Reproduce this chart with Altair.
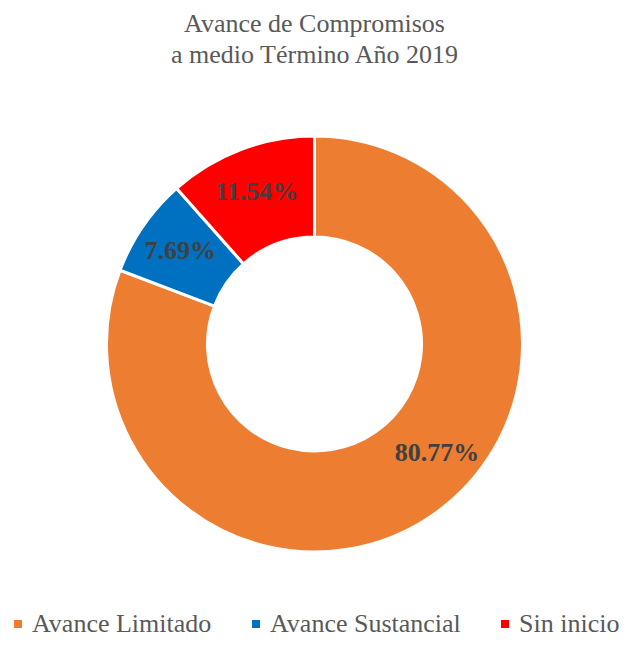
import altair as alt
import pandas as pd

categories = ["Avance Limitado", "Avance Sustancial", "Sin inicio"]
values = [80.77, 7.69, 11.54]
colors = ["#ED7D31", "#0070C0", "#FF0000"]
order = [1, 2, 3]

df = pd.DataFrame({
    "categoria": categories,
    "valor": values,
    "orden": order,
    "etiqueta": [f"{v:.2f}%" for v in values],
})

SERIF = "Times New Roman, Liberation Serif, serif"

base = alt.Chart(df).encode(
    theta=alt.Theta("valor:Q", stack=True),
    order=alt.Order("orden:Q"),
)

color_enc = alt.Color(
    "categoria:N",
    scale=alt.Scale(domain=categories, range=colors),
    sort=categories,
    legend=alt.Legend(
        title=None,
        orient="none",
        direction="horizontal",
        legendX=-3,
        legendY=541,
        symbolType="square",
        symbolSize=64,
        symbolStrokeWidth=0,
        labelFont=SERIF,
        labelFontSize=26,
        labelColor="#595959",
        labelOffset=1,
        columnPadding=31,
        labelLimit=400,
        padding=0,
    ),
)

arcs = base.mark_arc(
    outerRadius=208, innerRadius=107, stroke="white", strokeWidth=3
).encode(color=color_enc)

labels_small = base.mark_text(
    radius=163, font=SERIF, fontSize=26, fontWeight="bold", color="#404040"
).encode(
    text=alt.condition(
        alt.datum.categoria != "Avance Limitado",
        alt.Text("etiqueta:N"),
        alt.value(""),
    )
)

labels_big = base.mark_text(
    radius=163, dx=30, dy=-25, font=SERIF, fontSize=26, fontWeight="bold", color="#404040"
).encode(
    text=alt.condition(
        alt.datum.categoria == "Avance Limitado",
        alt.Text("etiqueta:N"),
        alt.value(""),
    )
)

chart = alt.layer(arcs, labels_small, labels_big).properties(
    width=613,
    height=548,
    autosize=alt.AutoSizeParams(type="none"),
    padding={"top": 62, "left": 0, "right": 0, "bottom": 22},
    title=alt.TitleParams(
        text=["Avance de Compromisos", "a medio Término Año 2019"],
        font=SERIF,
        fontSize=26,
        fontWeight="normal",
        color="#595959",
        lineHeight=31,
        anchor="middle",
        frame="group",
        offset=2,
    ),
).configure_view(stroke=None)

chart.save("out.html", embed_options={"renderer": "svg", "actions": False})
